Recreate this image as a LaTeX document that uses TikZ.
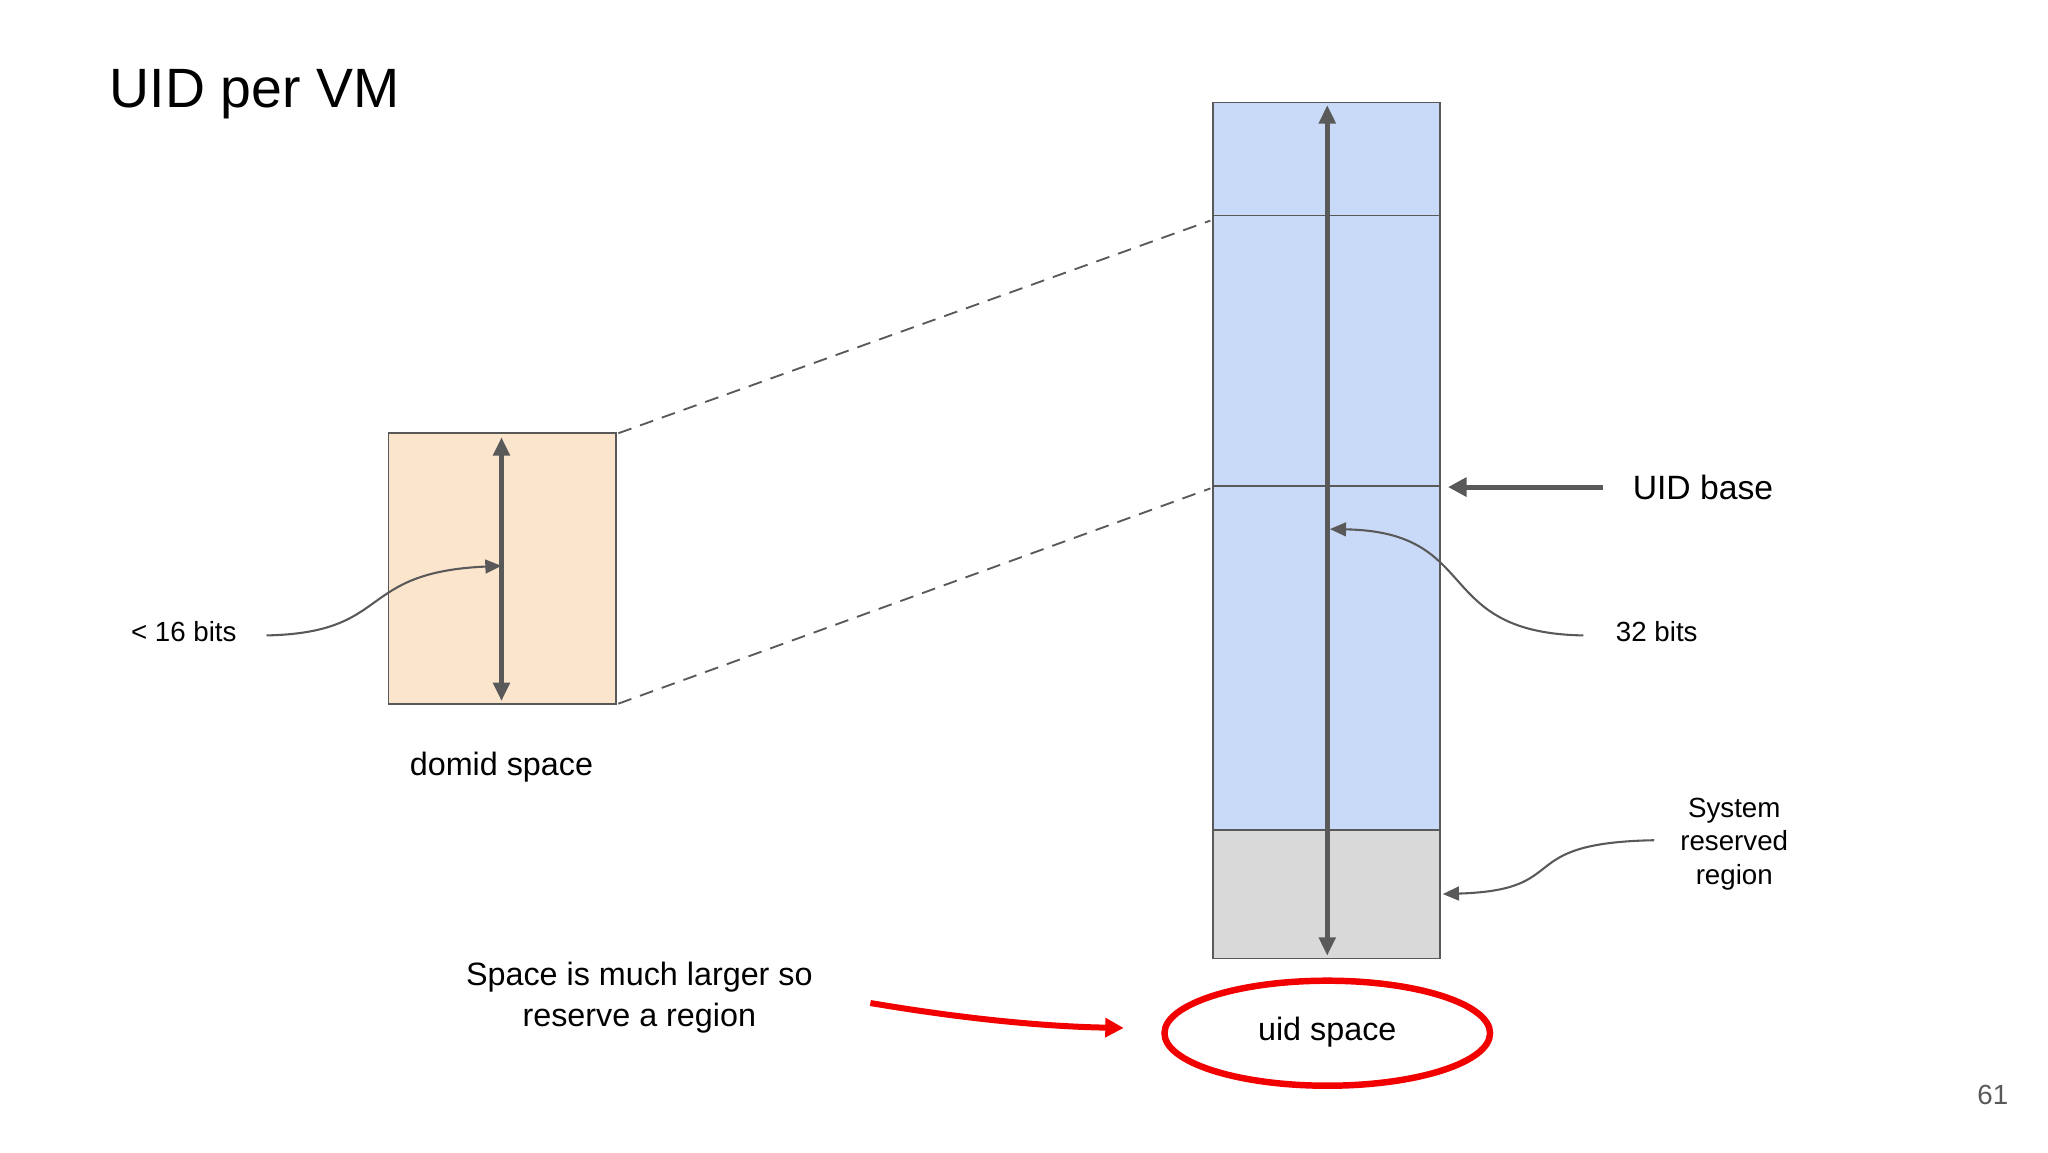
\documentclass[tikz,border=0pt]{standalone}
\usepackage{fontspec}
\setmainfont{Liberation Sans}
\usetikzlibrary{arrows.meta}
\definecolor{peach}{HTML}{FCE5CD}
\definecolor{lblue}{HTML}{C9DAF8}
\definecolor{lgray}{HTML}{D9D9D9}
\definecolor{dgray}{HTML}{595959}
\definecolor{bred}{HTML}{F20000}
\tikzset{
  box/.style={draw=dgray, line width=0.35pt},
  dbl/.style={dgray, line width=1pt, {Triangle[length=4pt,width=3.5pt]}-{Triangle[length=4pt,width=3.5pt]}},
  lead/.style={dgray, line width=0.45pt, -{Triangle[length=3.5pt,width=3pt]}},
  txt/.style={inner sep=0pt, font=\fontsize{6}{7}\selectfont, align=center},
}
\begin{document}
\begin{tikzpicture}[x=0.01cm,y=-0.01cm]
\useasboundingbox (0,0) rectangle (1560,877.5);
\node[anchor=base west, inner sep=0pt, font=\fontsize{12}{14}\selectfont] (title) at (83,82) {UID per VM};
% domid box
\draw[box, fill=peach] (296,330) rectangle (469,536);
\coordinate (dt) at (382,333); \coordinate (db) at (382,534);
\draw[dbl] (db) -- (dt);
\node[txt] (b16) at (140,481) {< 16 bits};
\coordinate (b16a) at (382,431);
\draw[lead] (203,484) .. controls (300,482) and (270,436) .. (b16a);
\node[txt, font=\fontsize{7}{8}\selectfont] (ds) at (382,584) {domid space};
% uid column
\draw[box, fill=lblue] (924,78) rectangle (1097,632);
\draw[box, fill=lgray] (924,632) rectangle (1097,730);
\draw[box] (924,164) -- (1097,164);
\draw[box] (924,370) -- (1097,370);
\coordinate (ut) at (1011,80); \coordinate (ub) at (1011,728);
\draw[dbl] (ub) -- (ut);
% dashed
\draw[dgray, line width=0.4pt, dash pattern=on 3pt off 2pt] (471,330) -- (922,168);
\draw[dgray, line width=0.4pt, dash pattern=on 3pt off 2pt] (471,536) -- (922,372);
% UID base
\node[txt, anchor=west, font=\fontsize{7.3}{8}\selectfont] (base) at (1243,371) {UID base};
\draw[dgray, line width=1.1pt, -{Triangle[length=4pt,width=4pt]}] (1221,371) -- (1103,371);
% 32 bits
\node[txt] (b32) at (1262,481) {32 bits};
\coordinate (b32a) at (1013,403);
\draw[lead] (1206,484) .. controls (1090,482) and (1130,405) .. (b32a);
% system reserved
\node[txt, font=\fontsize{6}{7.3}\selectfont] (sys) at (1321,643) {System\\reserved\\region};
\coordinate (sysa) at (1099,681);
\draw[lead] (1260,640) .. controls (1150,642) and (1200,678) .. (sysa);
% uid space
\node[txt, font=\fontsize{7}{8}\selectfont] (us) at (1011,786) {uid space};
\draw[bred, line width=1.4pt] (1011,787) ellipse [x radius=124, y radius=40];
% note
\node[txt, font=\fontsize{7}{8.8}\selectfont] (note) at (487,760) {Space is much larger so\\reserve a region};
\coordinate (ra) at (856,783);
\draw[bred, line width=1.3pt, -{Triangle[length=4pt,width=4pt]}] (663,764) .. controls (740,777) and (800,782) .. (ra);
\node[txt, text=dgray] (pg) at (1518,834) {61};
\end{tikzpicture}
\end{document}
